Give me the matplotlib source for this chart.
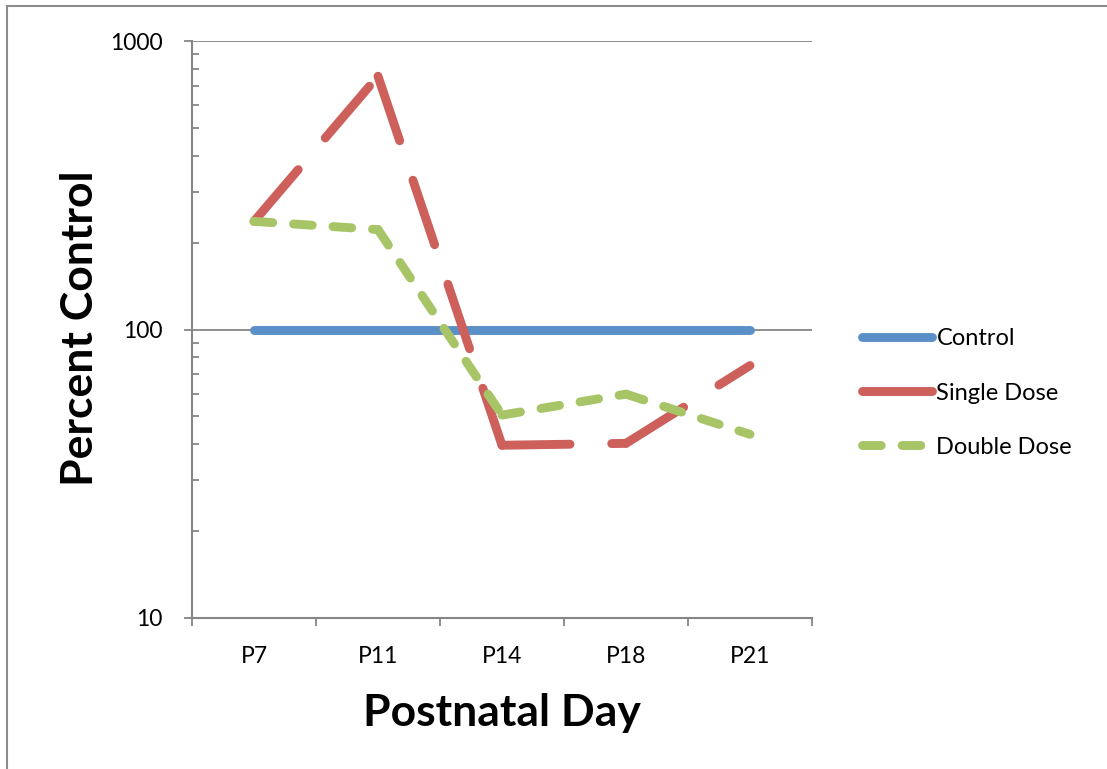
import matplotlib
matplotlib.use("Agg")
import matplotlib.pyplot as plt
from matplotlib.lines import Line2D
from matplotlib.patches import Rectangle
import numpy as np

categories = ["P7", "P11", "P14", "P18", "P21"]
control = [100, 100, 100, 100, 100]
single_dose = [237, 755, 39.7, 40.3, 75]
double_dose = [237, 222, 50.5, 59.7, 43.3]
series_names = ["Control", "Single Dose", "Double Dose"]
y_ticks = [10, 100, 1000]

plt.rcParams['font.family'] = ['Lato', 'DejaVu Sans']
plt.rcParams['lines.scale_dashes'] = False

W, H = 1107, 769
fig = plt.figure(figsize=(W / 100, H / 100), dpi=100)

def px(x0, y0, x1, y1):
    return [x0 / W, 1 - y1 / H, (x1 - x0) / W, (y1 - y0) / H]

# outer chart frame (only top/left visible)
fig.patches.append(Rectangle((7 / W, -0.1), 1.2, 1 - 6 / H + 0.1, transform=fig.transFigure,
                             fill=False, edgecolor='#8c8c8c', linewidth=1.5))

ax = fig.add_axes(px(192, 41, 812, 618))
grey = '#868686'
blue = '#5A8FC8'
red = '#CD605A'
green = '#A7C466'
lw = 6.4
red_dash = (49, 30)
green_dash = (13.5, 15)
x = np.arange(len(categories))

ax.plot(x, control, color=blue, lw=lw, solid_capstyle='round', solid_joinstyle='round',
        label=series_names[0], zorder=3)
# dash pattern restarts at every data point (as in the original chart)
for i in range(len(x) - 1):
    ax.plot(x[i:i + 2], single_dose[i:i + 2], color=red, lw=lw, dashes=red_dash,
            dash_capstyle='round', zorder=4)
for i in range(len(x) - 1):
    ax.plot(x[i:i + 2], double_dose[i:i + 2], color=green, lw=lw, dashes=green_dash,
            dash_capstyle='round', zorder=5)

ax.set_yscale('log')
ax.set_ylim(10, 1000)
ax.set_xlim(-0.5, len(categories) - 0.5)

ax.set_yticks(y_ticks)
ax.set_yticklabels([str(v) for v in y_ticks])
ax.yaxis.set_minor_locator(matplotlib.ticker.LogLocator(base=10, subs=np.arange(2, 10)))
ax.yaxis.set_minor_formatter(matplotlib.ticker.NullFormatter())
ax.tick_params(axis='y', which='major', direction='out', length=6, width=1.3, color=grey,
               labelsize=16.5, pad=15)
ax.tick_params(axis='y', which='minor', direction='in', length=5, width=1.3, color=grey)

ax.set_xticks(np.arange(-0.5, len(categories), 1.0))
ax.set_xticklabels([])
ax.set_xticks(x, minor=True)
ax.set_xticklabels(categories, minor=True)
ax.tick_params(axis='x', which='major', direction='out', length=6, width=1.3, color=grey)
ax.tick_params(axis='x', which='minor', length=0, labelsize=16.5, pad=20)

ax.yaxis.grid(True, which='major', color=grey, lw=1.3)
ax.set_axisbelow(True)
for s in ['top', 'right']:
    ax.spines[s].set_visible(False)
for s in ['left', 'bottom']:
    ax.spines[s].set_color(grey)
    ax.spines[s].set_linewidth(1.5)

fig.text(502 / W, 1 - 726 / H, "Postnatal Day", ha='center', va='baseline',
         fontsize=32, fontweight='bold')
fig.text(80 / W, 1 - 328 / H, "Percent Control", ha='center', va='center',
         rotation=90, fontsize=32, fontweight='bold')

handles = [Line2D([], [], color=blue, lw=lw, solid_capstyle='round'),
           Line2D([], [], color=red, lw=lw, solid_capstyle='round'),
           Line2D([], [], color=green, lw=lw, dashes=green_dash, dash_capstyle='round')]
leg = fig.legend(handles, series_names, loc='center left',
                 bbox_to_anchor=(862 / W, 1 - 393 / H), frameon=False,
                 fontsize=17, handlelength=2.95, handletextpad=0.2, labelspacing=1.4,
                 borderpad=0, borderaxespad=0)

fig.savefig("out.png", dpi=100, facecolor='white')
